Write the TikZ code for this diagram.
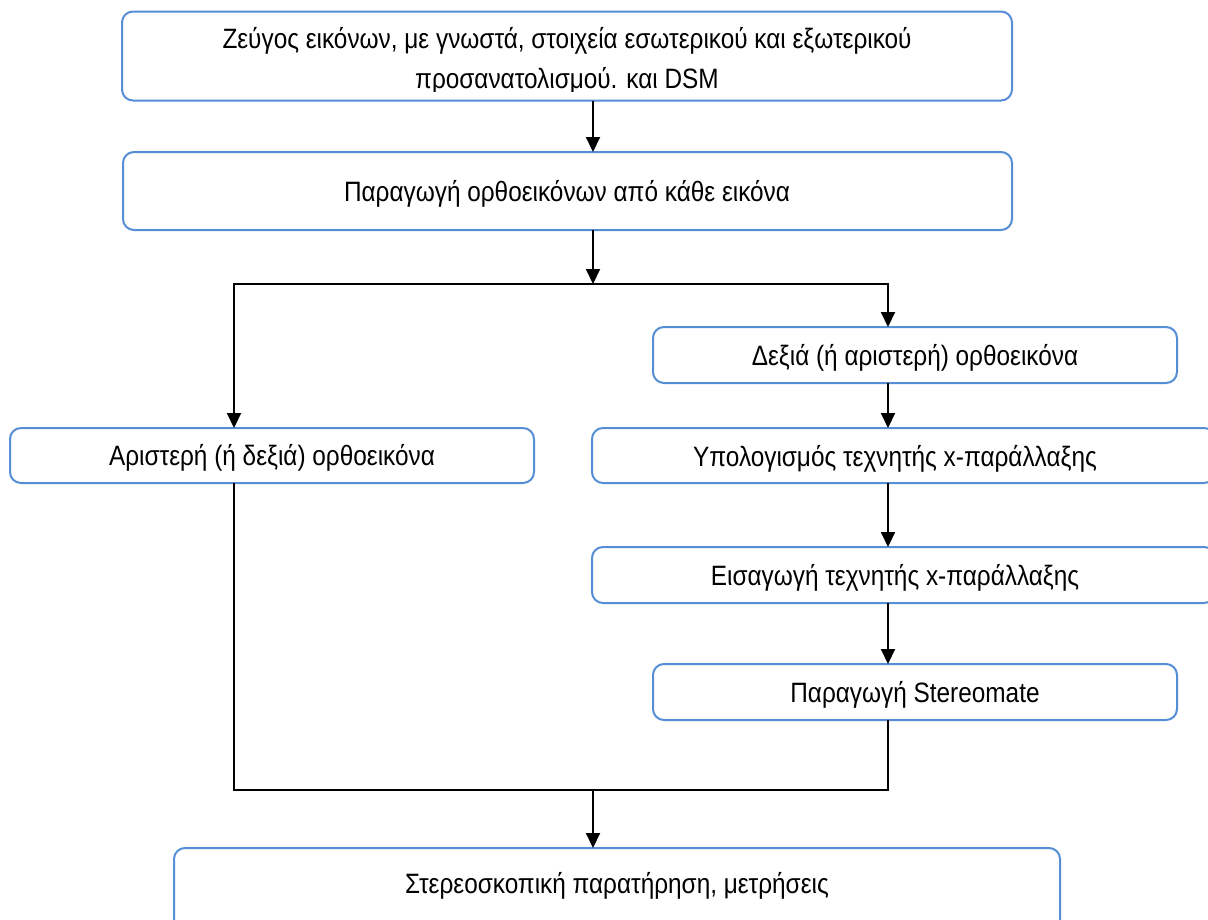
\documentclass[tikz,border=0pt]{standalone}
\usepackage{fontspec}
\setmainfont{Liberation Sans}[FakeStretch=0.87]
\usetikzlibrary{arrows.meta}
\definecolor{boxblue}{RGB}{85,142,213}
\tikzset{
  box/.style={draw=boxblue, line width=2pt, rounded corners=11pt, inner sep=0pt, outer sep=0pt},
  lbl/.style={anchor=base, inner sep=0pt, font=\fontsize{28}{32}\selectfont},
  conn/.style={line width=2pt, draw=black},
  arr/.style={conn, -{Triangle[width=14pt,length=15pt]}},
}
\begin{document}
\begin{tikzpicture}[x=1pt,y=-1pt]
\useasboundingbox (0,0) rectangle (1208,919);
\clip (0,0) rectangle (1208,919);
% boxes
\node[box, minimum width=890pt, minimum height=89pt] (b1) at (567,56) {};
\node[box, minimum width=889pt, minimum height=78pt] (b2) at (567.5,191) {};
\node[box, minimum width=524pt, minimum height=55pt] (lb) at (272,455.5) {};
\node[box, minimum width=524pt, minimum height=56pt] (r1) at (915,355) {};
\node[box, minimum width=623pt, minimum height=55pt] (r2) at (903.5,455.5) {};
\node[box, minimum width=623pt, minimum height=56pt] (r3) at (903.5,575) {};
\node[box, minimum width=524pt, minimum height=56pt] (r4) at (915,692) {};
\node[box, minimum width=886pt, minimum height=92pt] (fb) at (617,894) {};
% texts
\node[lbl] (t1a) at (567,48) {Ζεύγος εικόνων, με γνωστά, στοιχεία εσωτερικού και εξωτερικού};
\begin{scope}
\clip (0,0) rectangle (1208,91);
\node[lbl] (t1b) at (567,88) {προσανατολισμού. και DSM};
\end{scope}
\node[lbl] (t2) at (567,201) {Παραγωγή ορθοεικόνων από κάθε εικόνα};
\node[lbl] (tl) at (272,465.5) {Αριστερή (ή δεξιά) ορθοεικόνα};
\node[lbl] (tr1) at (915,365) {Δεξιά (ή αριστερή) ορθοεικόνα};
\node[lbl] (tr2) at (895,466) {Υπολογισμός τεχνητής x-παράλλαξης};
\node[lbl] (tr3) at (895,585) {Εισαγωγή τεχνητής x-παράλλαξης};
\node[lbl] (tr4) at (915,702) {Παραγωγή Stereomate};
\node[lbl] (tf) at (617,893) {Στερεοσκοπική παρατήρηση, μετρήσεις};
% connector guides
\coordinate (cm) at (593,0);
\coordinate (cl) at (234,0);
\coordinate (cr) at (888,0);
\coordinate (jt) at (0,284);
\coordinate (jb) at (0,790);
% connectors
\draw[arr] (b1.south -| cm) -- (b2.north -| cm);
\draw[arr] (b2.south -| cm) -- (jt -| cm);
\draw[arr] (jt -| cm) -- (jt -| cl) -- (lb.north -| cl);
\draw[arr] (jt -| cm) -- (jt -| cr) -- (r1.north -| cr);
\draw[arr] (r1.south -| cr) -- (r2.north -| cr);
\draw[arr] (r2.south -| cr) -- (r3.north -| cr);
\draw[arr] (r3.south -| cr) -- (r4.north -| cr);
\draw[conn] (r4.south -| cr) -- (jb -| cr) -- (jb -| cl) -- (lb.south -| cl);
\draw[arr] (jb -| cm) -- (fb.north -| cm);
\end{tikzpicture}
\end{document}
